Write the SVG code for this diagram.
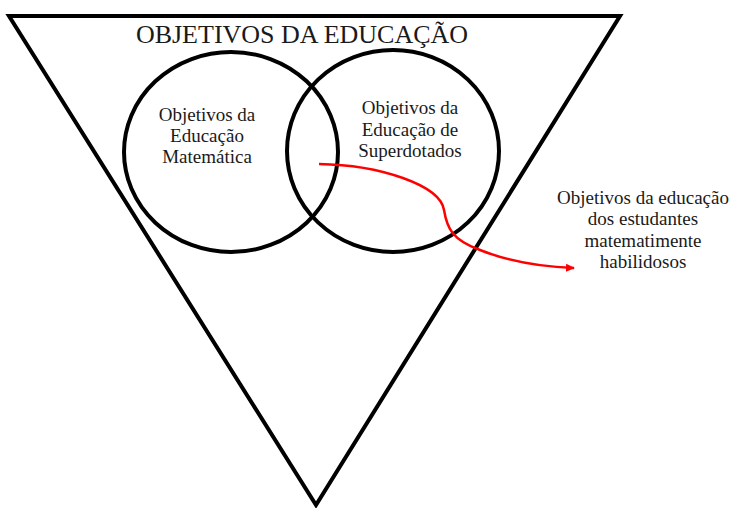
<svg xmlns="http://www.w3.org/2000/svg" width="732" height="508" viewBox="0 0 732 508">
<style>
.shape{fill:none;stroke:#000;stroke-width:4}
.t{font-family:"Liberation Serif","Times New Roman",serif;fill:#1a1a1a;text-anchor:middle}
.lbl{font-size:19px}
</style>
<defs>
<marker id="ah" markerWidth="10" markerHeight="10" refX="8" refY="5" orient="auto" markerUnits="userSpaceOnUse">
<path d="M0,1 L9,5 L0,9 Z" fill="#ff0000"/>
</marker>
</defs>
<rect width="732" height="508" fill="#fff"/>
<g id="triangle">
<polygon class="shape" points="9,16 620,16 316,505" stroke-linejoin="miter"/>
<text class="t" x="302" y="43" font-size="26">OBJETIVOS DA EDUCAÇÃO</text>
</g>
<g id="circle-mat">
<ellipse class="shape" cx="231" cy="152" rx="107" ry="100"/>
<text class="t lbl" x="207" y="121">Objetivos da</text>
<text class="t lbl" x="207" y="142">Educação</text>
<text class="t lbl" x="207" y="163">Matemática</text>
</g>
<g id="circle-sup">
<ellipse class="shape" cx="393" cy="151" rx="106" ry="101"/>
<text class="t lbl" x="410" y="114">Objetivos da</text>
<text class="t lbl" x="410" y="136">Educação de</text>
<text class="t lbl" x="410" y="157">Superdotados</text>
</g>
<g id="label-hab">
<text class="t lbl" x="643" y="204">Objetivos da educação</text>
<text class="t lbl" x="643" y="225">dos estudantes</text>
<text class="t lbl" x="643" y="247">matematimente</text>
<text class="t lbl" x="643" y="268">habilidosos</text>
</g>
<g id="connectors">
<path d="M319,164 C380,165 440,185 444,210 C447,228 452,240 480,250 C510,262 545,267 574,268" fill="none" stroke="#ff0000" stroke-width="2.5" marker-end="url(#ah)"/>
</g>
</svg>
